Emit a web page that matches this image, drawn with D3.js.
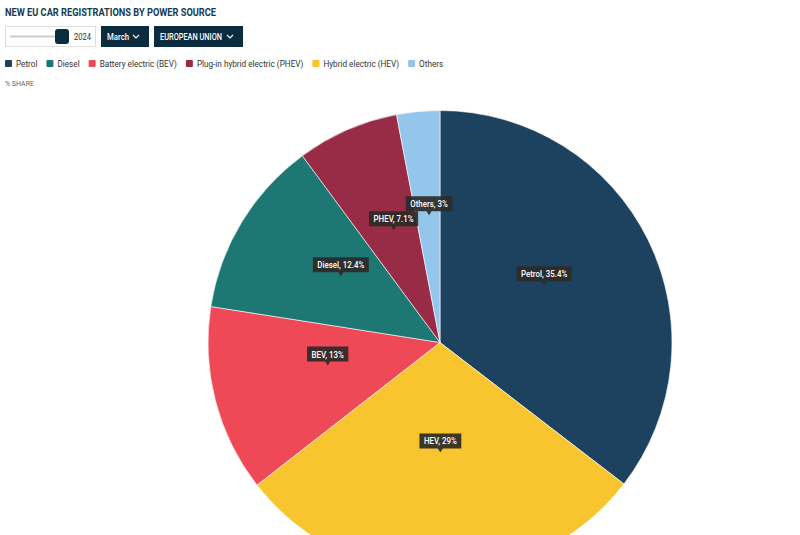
<!DOCTYPE html>
<html><head><meta charset="utf-8">
<script src="https://cdn.jsdelivr.net/npm/d3@7"></script>
<style>
html,body{margin:0;padding:0;background:#fff;overflow:hidden;}
svg{display:block;font-family:Roboto, "Liberation Sans", sans-serif;}
</style></head>
<body>
<svg id="chart" width="800" height="535"></svg>
<script>
const titleText = "NEW EU CAR REGISTRATIONS BY POWER SOURCE";
const yearLabel = "2024";
const monthLabel = "March";
const regionLabel = "EUROPEAN UNION";
const unitLabel = "% SHARE";
const categories = ["Petrol", "Hybrid electric (HEV)", "Battery electric (BEV)", "Diesel", "Plug-in hybrid electric (PHEV)", "Others"];
const shortNames = ["Petrol", "HEV", "BEV", "Diesel", "PHEV", "Others"];
const values = [35.4, 29, 13, 12.4, 7.1, 3];
const colors = ["#1d4260", "#f9c52f", "#ef4856", "#1d7874", "#982b45", "#93c6ea"];
const legendOrder = ["Petrol", "Diesel", "Battery electric (BEV)", "Plug-in hybrid electric (PHEV)", "Hybrid electric (HEV)", "Others"];

const svg = d3.select("#chart");

// title
svg.append("text").attr("x", 5).attr("y", 15.5)
  .attr("font-size", 11).attr("font-weight", 700).attr("fill", "#163a52")
  .attr("textLength", 211).attr("lengthAdjust", "spacingAndGlyphs")
  .text(titleText);

// slider control
const ctl = svg.append("g");
ctl.append("rect").attr("x", 5.5).attr("y", 26.5).attr("width", 90).attr("height", 20)
  .attr("fill", "#fff").attr("stroke", "#ddd");
ctl.append("line").attr("x1", 11).attr("x2", 60).attr("y1", 36.5).attr("y2", 36.5)
  .attr("stroke", "#ccc").attr("stroke-width", 2).attr("stroke-linecap", "round");
ctl.append("rect").attr("x", 55).attr("y", 29).attr("width", 14).attr("height", 15).attr("rx", 3)
  .attr("fill", "#0b2b3f");
ctl.append("text").attr("x", 74).attr("y", 40).attr("font-size", 9).attr("fill", "#333")
  .attr("textLength", 17).attr("lengthAdjust", "spacingAndGlyphs").text(yearLabel);

function dropdown(x, w, label, tw) {
  const g = svg.append("g");
  g.append("rect").attr("x", x).attr("y", 26).attr("width", w).attr("height", 21).attr("fill", "#0b2b3f");
  g.append("text").attr("x", x + 6).attr("y", 40).attr("font-size", 9).attr("font-weight", 500)
    .attr("fill", "#fff").attr("textLength", tw).attr("lengthAdjust", "spacingAndGlyphs").text(label);
  const cx = x + w - 13;
  g.append("path").attr("d", `M${cx - 3},35 L${cx},38 L${cx + 3},35`)
    .attr("fill", "none").attr("stroke", "#fff").attr("stroke-width", 1.1);
}
dropdown(101, 48, monthLabel, 22);
dropdown(154, 89, regionLabel, 62);

// legend
const legend = svg.append("g");
let lx = 5;
legendOrder.forEach(name => {
  const i = categories.indexOf(name);
  legend.append("rect").attr("x", lx).attr("y", 60).attr("width", 7).attr("height", 7).attr("rx", 1)
    .attr("fill", colors[i]);
  const t = legend.append("text").attr("x", lx + 11).attr("y", 67).attr("font-size", 8.7)
    .attr("fill", "#333").text(name);
  const w = t.node().getComputedTextLength() * 0.94;
  t.attr("textLength", w).attr("lengthAdjust", "spacingAndGlyphs");
  lx += 11 + w + 9;
});

svg.append("text").attr("x", 5).attr("y", 85.5).attr("font-size", 7).attr("fill", "#666")
  .text(unitLabel);

// pie
const cx = 440, cy = 342.5, R = 232;
const pie = d3.pie().sort(null).value(d => d)(values);
const arc = d3.arc().innerRadius(0).outerRadius(R);
const g = svg.append("g").attr("transform", `translate(${cx},${cy})`);
g.selectAll("path.slice").data(pie).enter().append("path").attr("class", "slice")
  .attr("d", arc).attr("fill", (d, i) => colors[i]).attr("stroke", "#fff").attr("stroke-width", 0.6);

// labels anchored above slice centroid (simple collision avoidance: later labels move up)
const lift = 6, tip = 4;
const placed = [];
pie.forEach((d, i) => {
  const c = arc.centroid(d);
  const el = g.append("g").attr("class", "lbl");
  const bg = el.append("path");
  const t = el.append("text").attr("text-anchor", "middle").attr("y", -8)
    .attr("font-size", 8.6).attr("font-weight", 500).attr("fill", "#fff")
    .text(`${shortNames[i]}, ${d3.format("~")(values[i])}%`);
  const w = t.node().getComputedTextLength() * 0.92;
  t.attr("textLength", w).attr("lengthAdjust", "spacingAndGlyphs");
  const bw = w + 9, bh = 15, top = -tip - bh;
  bg.attr("d", `M${-bw/2},${top} h${bw} v${bh} h${-bw/2 + 2.5} l-2.5,${tip} l-2.5,${-tip} h${-bw/2 + 2.5} Z`)
    .attr("fill", "rgba(45,42,40,0.92)");
  let x = c[0], y = c[1] - lift;
  const box = () => ({x0: x - bw/2, x1: x + bw/2, y0: y + top, y1: y - tip});
  let moved = true;
  while (moved) {
    moved = false;
    for (const p of placed) {
      const b = box();
      if (b.x0 < p.x1 && b.x1 > p.x0 && b.y0 < p.y1 && b.y1 > p.y0) {
        y = p.y0 + tip;
        moved = true;
      }
    }
  }
  placed.push(box());
  el.attr("transform", `translate(${x},${y})`);
});
</script>
</body></html>
